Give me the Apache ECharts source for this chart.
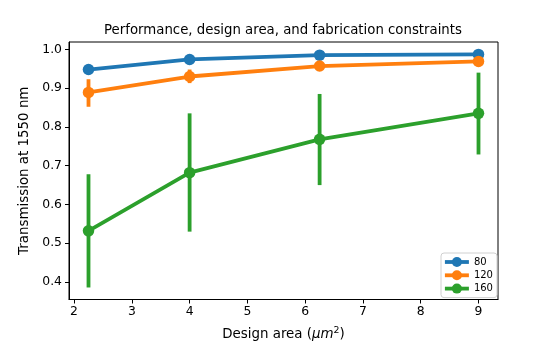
<!DOCTYPE html>
<html>
<head>
<meta charset="utf-8">
<script src="https://cdn.jsdelivr.net/npm/echarts@6/dist/echarts.min.js"></script>
<style>
  html, body { margin: 0; padding: 0; background: #fff; }
  #chart { width: 554px; height: 346px; }
</style>
</head>
<body>
<div id="chart"></div>
<script>
// design areas (um^2)
var areas = [2.25, 4, 6.25, 9]
var hues = ['80', '120', '160']
var colors = ['#1f77b4', '#ff7f0e', '#2ca02c']

// tick positions
var xTicks = [2, 3, 4, 5, 6, 7, 8, 9]
var yTicks = [0.4, 0.5, 0.6, 0.7, 0.8, 0.9, 1.0]

// mean transmission per hue
var mean80 = [0.948, 0.974, 0.985, 0.987]
var mean120 = [0.889, 0.930, 0.957, 0.969]
var mean160 = [0.532, 0.682, 0.768, 0.835]

// error bar ends
var low80 = [0.944, 0.971, 0.983, 0.985]
var high80 = [0.952, 0.977, 0.987, 0.989]
var low120 = [0.852, 0.913, 0.950, 0.963]
var high120 = [0.923, 0.948, 0.964, 0.975]
var low160 = [0.386, 0.530, 0.650, 0.729]
var high160 = [0.678, 0.835, 0.885, 0.940]

var means = [mean80, mean120, mean160]
var lows = [low80, low120, low160]
var highs = [high80, high120, high160]

var font = 'DejaVu Sans'
var lw = 3.8

var chart = echarts.init(document.getElementById('chart'))

var series = []
hues.forEach(function (name, i) {
  series.push({
    type: 'custom',
    name: name + ' ci',
    z: 2 + i * 2,
    silent: true,
    data: areas.map(function (x, j) { return [x, lows[i][j], highs[i][j]] }),
    renderItem: function (params, api) {
      var a = api.coord([api.value(0), api.value(1)])
      var b = api.coord([api.value(0), api.value(2)])
      return {
        type: 'line',
        shape: { x1: a[0], y1: a[1], x2: b[0], y2: b[1] },
        style: { stroke: colors[i], lineWidth: lw }
      }
    }
  })
  series.push({
    type: 'line',
    name: name,
    z: 3 + i * 2,
    data: areas.map(function (x, j) { return [x, means[i][j]] }),
    symbol: 'circle',
    symbolSize: 11.5,
    lineStyle: { width: lw, color: colors[i] },
    itemStyle: { color: colors[i] }
  })
})

chart.setOption({
  animation: false,
  title: {
    text: 'Performance, design area, and fabrication constraints',
    left: 283,
    textAlign: 'center',
    top: 24,
    padding: 0,
    textStyle: { fontFamily: font, fontSize: 13.3, fontWeight: 'normal', color: '#000' }
  },
  grid: {
    left: 69, right: 56, top: 42, bottom: 43.5,
    show: true, borderColor: '#000', borderWidth: 1
  },
  legend: {
    data: hues,
    orient: 'vertical',
    left: 441,
    top: 253,
    itemWidth: 24,
    itemHeight: 12.5,
    itemGap: 1.3,
    padding: [3, 4, 3, 2],
    borderColor: '#d0d0d0',
    borderWidth: 1,
    borderRadius: 3,
    lineStyle: { width: lw },
    textStyle: { fontFamily: font, fontSize: 10, lineHeight: 12, color: '#000' }
  },
  xAxis: {
    type: 'value',
    min: 1.9125,
    max: 9.3375,
    splitLine: { show: false },
    axisLine: { show: true, onZero: false, lineStyle: { color: '#000', width: 1 } },
    axisTick: { show: true, length: 4, customValues: xTicks, lineStyle: { color: '#000' } },
    axisLabel: {
      customValues: xTicks,
      fontFamily: font, fontSize: 12.4, color: '#000', margin: 6
    },
    name: '{a|Design area (}{i|μm}{s|2}{a|)}',
    nameLocation: 'middle',
    nameGap: 27,
    nameTextStyle: {
      rich: {
        a: { fontFamily: font, fontSize: 13.4, color: '#000' },
        i: { fontFamily: font, fontSize: 13.4, fontStyle: 'italic', color: '#000' },
        s: { fontFamily: font, fontSize: 9.4, color: '#000', padding: [0, 0, 7, 0] }
      }
    }
  },
  yAxis: {
    type: 'value',
    min: 0.355,
    max: 1.019,
    splitLine: { show: false },
    axisLine: { show: true, lineStyle: { color: '#000', width: 1 } },
    axisTick: { show: true, length: 4, customValues: yTicks, lineStyle: { color: '#000' } },
    axisLabel: {
      customValues: yTicks,
      fontFamily: font, fontSize: 12.4, color: '#000', margin: 7,
      formatter: function (v) { return v.toFixed(1) }
    },
    name: 'Transmission at 1550 nm',
    nameLocation: 'middle',
    nameGap: 28,
    nameTextStyle: { fontFamily: font, fontSize: 13.4, color: '#000' }
  },
  series: series
})
</script>
</body>
</html>
